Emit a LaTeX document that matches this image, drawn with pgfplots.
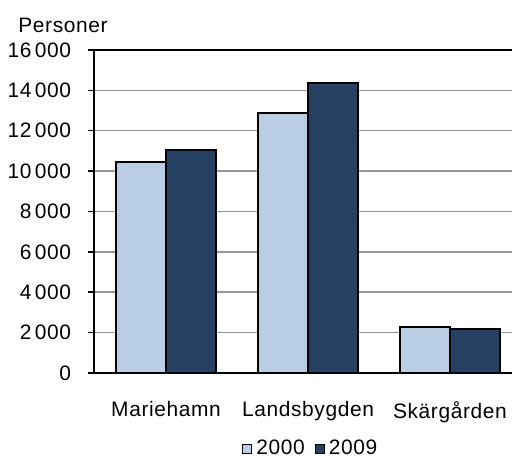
\documentclass[border=0pt]{standalone}
\usepackage{pgfplots}
\pgfplotsset{compat=1.18}
\usepackage{fontspec}
\setmainfont[LetterSpace=3]{Liberation Sans}
\definecolor{lightblue}{RGB}{185,205,229}
\definecolor{navy}{RGB}{38,64,97}
\definecolor{gridgray}{RGB}{150,150,150}
\begin{document}
\fontsize{10.5}{12.5}\selectfont
\begin{tikzpicture}
\useasboundingbox (0,0) rectangle (256bp,228.5bp);
\node[anchor=west, inner sep=0pt] at (9bp,216bp) {Personer};
\begin{axis}[
  at={(46.75bp,42bp)}, anchor=south west,
  scale only axis, width=209.25bp, height=161.5bp,
  ymin=0, ymax=16000,
  xmin=-0.511, xmax=2.437,
  ytick={0,2000,...,16000},
  scaled y ticks=false,
  xtick={0,1,2},
  xticklabels={Mariehamn,Landsbygden,Skärgården},
  major x tick style={draw=none},
  ytick style={black, line width=0.75bp},
  tick align=outside,
  major tick length=2.5bp,
  axis x line*=bottom, axis y line*=left,
  axis line style={black, line width=1bp, -},
  ymajorgrids, major grid style={gridgray, line width=0.75bp},
  /pgf/number format/.cd, fixed, precision=0, 1000 sep={\,}, assume math mode=true,
  /pgfplots/.cd,
  yticklabel style={font=\fontsize{10.5}{12.5}\selectfont, xshift=-5bp},
  xticklabel style={font=\fontsize{10.5}{12.5}\selectfont, yshift=-8bp},
  ybar=0pt, bar width=0.352,
  legend style={draw=none, at={(0.5215,-0.195)}, anchor=north, legend columns=2,
    font=\fontsize{10.5}{12.5}\selectfont,
    /tikz/every even column/.append style={column sep=3bp}, inner sep=0pt},
  legend image code/.code={\draw[#1, line width=0.6bp] (0bp,-2.25bp) rectangle (4.5bp,2.25bp);},
  legend cell align=left,
  clip=false,
]
\addplot[fill=lightblue, draw=black, line width=1bp] coordinates {(0,10470) (1,12890) (2,2290)};
\addplot[fill=navy, draw=black, line width=1bp] coordinates {(0,11050) (1,14350) (2,2180)};
\legend{2000,2009}
\draw[black, line width=1bp] (rel axis cs:0,1) -- (rel axis cs:1,1);
\end{axis}
\end{tikzpicture}
\end{document}
